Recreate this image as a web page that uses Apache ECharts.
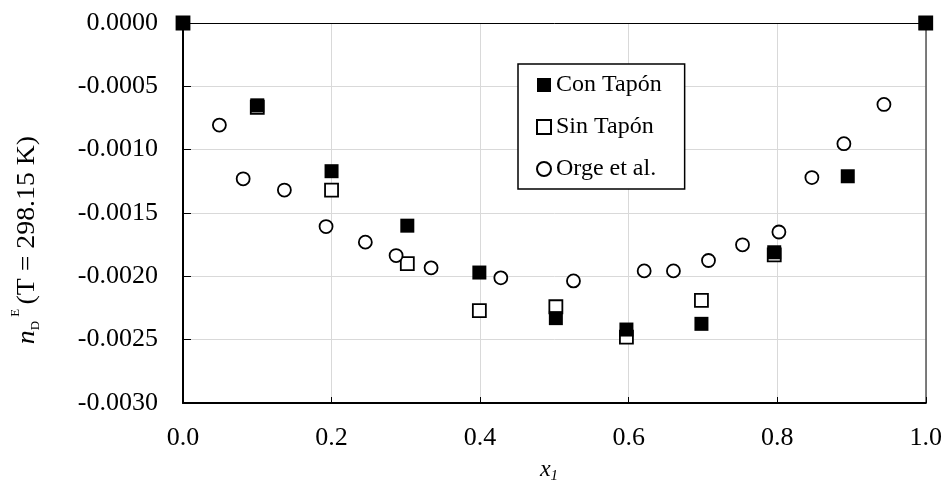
<!DOCTYPE html>
<html>
<head>
<meta charset="utf-8">
<script src="https://cdn.jsdelivr.net/npm/echarts@6/dist/echarts.min.js"></script>
<style>html,body{margin:0;padding:0;background:#fff}#c{width:945px;height:494px}</style>
</head>
<body>
<div id="c"></div>
<script>
var conX = [0, 0.1, 0.2, 0.302, 0.399, 0.502, 0.597, 0.698, 0.796, 0.895, 1.0];
var conY = [0, -0.00065, -0.00117, -0.0016, -0.00197, -0.00233, -0.00242, -0.002375, -0.00181, -0.00121, 0];
var sinX = [0, 0.1, 0.2, 0.302, 0.399, 0.502, 0.597, 0.698, 0.796, 1.0];
var sinY = [0, -0.000665, -0.00132, -0.0019, -0.00227, -0.00224, -0.00248, -0.00219, -0.00183, 0];
var orgeX = [0.049, 0.081, 0.1365, 0.1926, 0.2455, 0.2869, 0.334, 0.4279, 0.5257, 0.6209, 0.6603, 0.7075, 0.7533, 0.8023, 0.8467, 0.8898, 0.9437];
var orgeY = [-0.000806, -0.00123, -0.001319, -0.001607, -0.00173, -0.001836, -0.001933, -0.002012, -0.002036, -0.001957, -0.001957, -0.001875, -0.001751, -0.00165, -0.00122, -0.000953, -0.000643];
var seriesNames = ['Con Tapón', 'Sin Tapón', 'Orge et al.'];

function pairs(xs, ys) { return xs.map(function (x, i) { return [x, ys[i]]; }); }

var FONT = '"Liberation Serif", "Times New Roman", serif';
var chart = echarts.init(document.getElementById('c'), null, {renderer: 'canvas'});
chart.setOption({
  animation: false,
  backgroundColor: '#fff',
  grid: {left: 183, right: 18, top: 23, bottom: 91, containLabel: false},
  xAxis: [{
    type: 'value', min: 0, max: 1, interval: 0.2,
    axisLine: {show: true, onZero: false, lineStyle: {color: '#000', width: 2}},
    axisTick: {show: true, inside: true, length: 6, lineStyle: {color: '#000', width: 1}},
    axisLabel: {margin: 22, fontFamily: FONT, fontSize: 26, color: '#000', formatter: function (v) { return v.toFixed(1); }},
    splitLine: {show: true, lineStyle: {color: '#d9d9d9', width: 1}}
  }, {
    type: 'value', position: 'top', min: 0, max: 1,
    axisLine: {show: true, onZero: false, lineStyle: {color: '#000', width: 1}},
    axisTick: {show: false}, axisLabel: {show: false}, splitLine: {show: false}
  }],
  yAxis: [{
    type: 'value', min: -0.003, max: 0, interval: 0.0005,
    axisLine: {show: true, onZero: false, lineStyle: {color: '#000', width: 2}},
    axisTick: {show: true, inside: true, length: 8, lineStyle: {color: '#000', width: 1}},
    axisLabel: {margin: 25, fontFamily: FONT, fontSize: 26, color: '#000', formatter: function (v) { return v.toFixed(4); }},
    splitLine: {show: true, lineStyle: {color: '#d9d9d9', width: 1}}
  }, {
    type: 'value', position: 'right', min: -0.003, max: 0,
    axisLine: {show: true, onZero: false, lineStyle: {color: '#555', width: 1.5}},
    axisTick: {show: false}, axisLabel: {show: false}, splitLine: {show: false}
  }],
  legend: {
    orient: 'vertical', left: 518, top: 64,
    data: seriesNames,
    backgroundColor: '#fff', borderColor: '#000', borderWidth: 1.5,
    padding: [7, 23, 6, 18],
    itemWidth: 14, itemHeight: 14, itemGap: 14,
    textStyle: {fontFamily: FONT, fontSize: 24, color: '#000', lineHeight: 28}
  },
  series: [{
    name: seriesNames[1], type: 'scatter', data: pairs(sinX, sinY), symbol: 'rect', symbolSize: 13,
    itemStyle: {color: '#fff', borderColor: '#000', borderWidth: 1.8, opacity: 1}, clip: false, z: 3
  }, {
    name: seriesNames[0], type: 'scatter', data: pairs(conX, conY), symbol: 'rect', symbolSize: 14,
    itemStyle: {color: '#000', opacity: 1}, clip: false, z: 4
  }, {
    name: seriesNames[2], type: 'scatter', data: pairs(orgeX, orgeY), symbol: 'circle', symbolSize: 13,
    itemStyle: {color: '#fff', borderColor: '#000', borderWidth: 1.8, opacity: 1}, clip: false, z: 3
  }],
  graphic: [{
    type: 'text', x: 27, y: 240, rotation: Math.PI / 2, scaleX: 1.07,
    style: {
      text: '{n|n}{d|D}{e|E}{m|(T = 298.15 K)}',
      align: 'center', verticalAlign: 'middle', fill: '#000',
      rich: {
        n: {fontFamily: FONT, fontStyle: 'italic', fontSize: 26, lineHeight: 34},
        d: {fontFamily: FONT, fontSize: 12, lineHeight: 12, verticalAlign: 'bottom', padding: [0, 0, 2, 0]},
        e: {fontFamily: FONT, fontSize: 12, lineHeight: 12, verticalAlign: 'top', padding: [0, 4, 0, 4]},
        m: {fontFamily: FONT, fontSize: 26, lineHeight: 34}
      }
    }
  }, {
    type: 'text', x: 549, y: 470,
    style: {
      text: '{x|x}{s|1}',
      align: 'center', verticalAlign: 'middle', fill: '#000',
      rich: {
        x: {fontFamily: FONT, fontStyle: 'italic', fontSize: 24, lineHeight: 28},
        s: {fontFamily: FONT, fontStyle: 'italic', fontSize: 15, lineHeight: 15, verticalAlign: 'bottom'}
      }
    }
  }]
});
</script>
</body>
</html>
